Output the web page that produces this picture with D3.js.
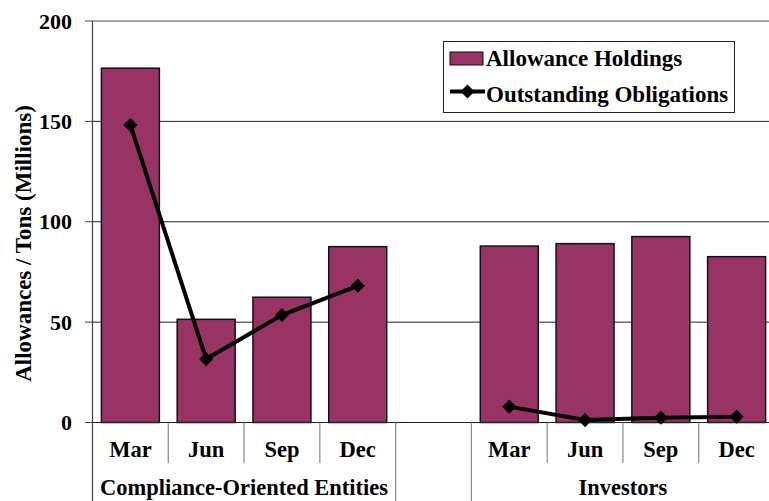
<!DOCTYPE html>
<html>
<head>
<meta charset="utf-8">
<script src="https://cdn.jsdelivr.net/npm/d3@7"></script>
<style>
  body { margin: 0; background: #fff; }
  svg { display: block; }
  svg text { font-family: "Liberation Serif", Times, "DejaVu Serif", serif; font-weight: bold; }
</style>
</head>
<body>
<svg id="chart" width="769" height="501"></svg>
<script>
// data
const months = ["Mar", "Jun", "Sep", "Dec"];
const groups = ["Compliance-Oriented Entities", "Investors"];
const holdingsCompliance = [176.5, 51.4, 62.4, 87.6];
const obligationsCompliance = [148.2, 31.6, 53.5, 68.1];
const holdingsInvestors = [87.9, 89.1, 92.6, 82.6];
const obligationsInvestors = [7.9, 1.2, 2.4, 2.9];
const yTicks = [0, 50, 100, 150, 200];
const seriesNames = ["Allowance Holdings", "Outstanding Obligations"];

const barColor = "#993366";
const svg = d3.select("#chart");
const W = 769, H = 501;
const margin = {left: 92.5, right: -5.5, top: 21, bottom: 78.5};

// slots: 4 compliance, one empty, 4 investors
const slots = [...months.map(m => "C-" + m), "gap", ...months.map(m => "I-" + m)];
const x = d3.scaleBand().domain(slots)
  .range([margin.left, W - margin.right])
  .paddingInner(0.235).paddingOuter(0.1175);
const y = d3.scaleLinear().domain([0, 200]).range([H - margin.bottom, margin.top]);

const rows = [
  ...months.map((m, i) => ({key: "C-" + m, g: 0, h: holdingsCompliance[i], o: obligationsCompliance[i]})),
  ...months.map((m, i) => ({key: "I-" + m, g: 1, h: holdingsInvestors[i], o: obligationsInvestors[i]}))
];

// gridlines
svg.append("g").selectAll("line").data(yTicks.filter(t => t > 0)).join("line")
  .attr("x1", margin.left).attr("x2", W)
  .attr("y1", d => y(d)).attr("y2", d => y(d))
  .attr("stroke", d => d === 200 ? "#888" : "#222")
  .attr("stroke-width", d => d === 200 ? 1.6 : 1);

// bars
svg.append("g").selectAll("rect").data(rows).join("rect")
  .attr("x", d => x(d.key)).attr("width", x.bandwidth())
  .attr("y", d => y(d.h)).attr("height", d => y(0) - y(d.h))
  .attr("fill", barColor).attr("stroke", "#111").attr("stroke-width", 1.5);

// x axis baseline
svg.append("line").attr("x1", 85).attr("x2", W).attr("y1", y(0)).attr("y2", y(0))
  .attr("stroke", "#222").attr("stroke-width", 1.2);

// category separators
const step = x.step();
const x0 = margin.left;
const sepInner = [1, 2, 3, 6, 7, 8];
const sepOuter = [0, 4, 5];
svg.append("g").selectAll("line").data(sepInner).join("line")
  .attr("x1", d => x0 + d * step).attr("x2", d => x0 + d * step)
  .attr("y1", y(0)).attr("y2", 463)
  .attr("stroke", "#888").attr("stroke-width", 1.2);
svg.append("g").selectAll("line").data(sepOuter).join("line")
  .attr("x1", d => x0 + d * step).attr("x2", d => x0 + d * step)
  .attr("y1", d => d === 0 ? margin.top : y(0)).attr("y2", H)
  .attr("stroke", d => d === 0 ? "#444" : "#888").attr("stroke-width", 1.2);

// y ticks and labels
svg.append("g").selectAll("line").data(yTicks).join("line")
  .attr("x1", 85).attr("x2", margin.left)
  .attr("y1", d => y(d)).attr("y2", d => y(d))
  .attr("stroke", "#444");
svg.append("g").selectAll("text").data(yTicks).join("text")
  .attr("x", 72).attr("y", d => y(d)).attr("dy", "0.35em")
  .attr("text-anchor", "end").attr("font-size", 22)
  .text(d => d);

svg.append("text")
  .attr("transform", "translate(31,243.5) rotate(-90)")
  .attr("text-anchor", "middle").attr("font-size", 23)
  .text("Allowances / Tons (Millions)");

// month and group labels
svg.append("g").selectAll("text").data(rows).join("text")
  .attr("x", d => x(d.key) + x.bandwidth() / 2).attr("y", 457)
  .attr("text-anchor", "middle").attr("font-size", 22.5)
  .text(d => d.key.slice(2));
svg.append("g").selectAll("text").data(groups).join("text")
  .attr("x", (d, i) => x0 + (i === 0 ? 2 : 7) * step).attr("y", 495)
  .attr("text-anchor", "middle").attr("font-size", 22.5)
  .text(d => d);

// obligation lines, one per group
const line = d3.line().x(d => x(d.key) + x.bandwidth() / 2).y(d => y(d.o));
const diamond = d3.symbol().type(d3.symbolSquare).size(100);
groups.forEach((g, gi) => {
  const pts = rows.filter(r => r.g === gi);
  svg.append("path").datum(pts).attr("d", line)
    .attr("fill", "none").attr("stroke", "#000").attr("stroke-width", 4);
  svg.append("g").selectAll("path").data(pts).join("path")
    .attr("d", diamond)
    .attr("transform", d => `translate(${x(d.key) + x.bandwidth() / 2},${y(d.o)}) rotate(45)`)
    .attr("fill", "#000");
});

// legend
const lg = svg.append("g");
lg.append("rect").attr("x", 443.5).attr("y", 41.5).attr("width", 291).attr("height", 71)
  .attr("fill", "#fff").attr("stroke", "#222");
lg.append("rect").attr("x", 450).attr("y", 52).attr("width", 33).attr("height", 13)
  .attr("fill", barColor).attr("stroke", "#111");
lg.append("line").attr("x1", 450).attr("x2", 485).attr("y1", 91.5).attr("y2", 91.5)
  .attr("stroke", "#000").attr("stroke-width", 4);
lg.append("path").attr("d", diamond)
  .attr("transform", "translate(467.5,91.5) rotate(45)").attr("fill", "#000");
lg.selectAll("text.leg").data(seriesNames).join("text").attr("class", "leg")
  .attr("x", 486).attr("y", (d, i) => 66 + i * 35.5)
  .attr("font-size", 23).text(d => d);
</script>
</body>
</html>
